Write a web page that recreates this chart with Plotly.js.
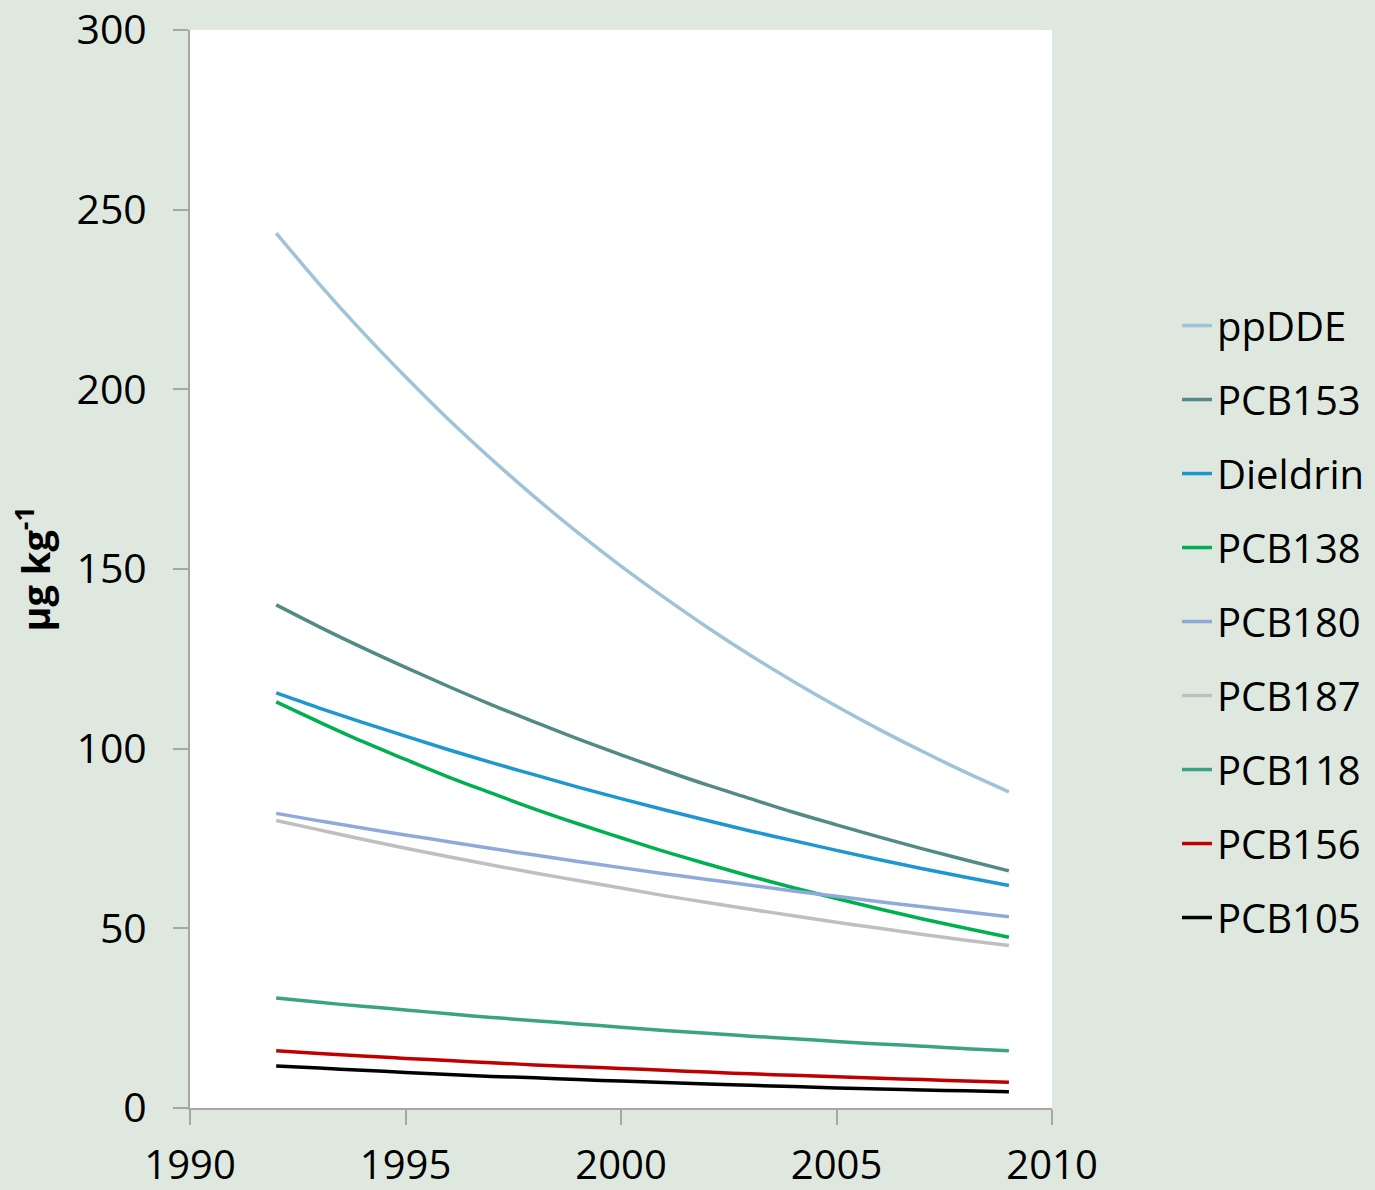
<!DOCTYPE html>
<html>
<head>
<meta charset="utf-8">
<script src="https://cdn.plot.ly/plotly-3.0.1.min.js"></script>
<style>html,body{margin:0;padding:0;background:#dfe8df;}</style>
</head>
<body>
<div id="chart" style="width:1375px;height:1190px;"></div>
<script>
const years = [1992,1993,1994,1995,1996,1997,1998,1999,2000,2001,2002,2003,2004,2005,2006,2007,2008,2009];

const ppDDE    = [243.5,229.3,216.0,203.5,191.6,180.5,170.0,160.1,150.8,142.1,133.8,126.0,118.7,111.8,105.3,99.2,93.4,88.0];
const PCB153   = [140.0,133.9,128.1,122.6,117.3,112.2,107.4,102.7,98.3,94.0,89.9,86.1,82.3,78.8,75.4,72.1,69.0,66.0];
const Dieldrin = [115.5,111.3,107.3,103.5,99.7,96.1,92.7,89.3,86.1,83.0,80.0,77.1,74.4,71.7,69.1,66.6,64.2,61.9];
const PCB138   = [113.0,107.4,102.0,97.0,92.1,87.6,83.2,79.1,75.2,71.4,67.9,64.5,61.3,58.3,55.4,52.6,50.0,47.5];
const PCB180   = [82.0,79.9,77.9,76.0,74.1,72.2,70.4,68.6,66.9,65.2,63.6,62.0,60.4,58.9,57.4,56.0,54.6,53.2];
const PCB187   = [80.0,77.4,74.8,72.3,69.9,67.6,65.4,63.3,61.2,59.1,57.2,55.3,53.5,51.7,50.0,48.3,46.7,45.2];
const PCB118   = [30.6,29.4,28.3,27.3,26.2,25.2,24.3,23.4,22.5,21.6,20.8,20.0,19.3,18.5,17.8,17.2,16.5,15.9];
const PCB156   = [15.9,15.2,14.5,13.8,13.2,12.6,12.0,11.5,11.0,10.5,10.0,9.5,9.1,8.7,8.3,7.9,7.5,7.2];
const PCB105   = [11.7,11.1,10.5,9.9,9.3,8.8,8.4,7.9,7.5,7.1,6.7,6.3,6.0,5.6,5.3,5.0,4.8,4.5];

const seriesNames = ["ppDDE","PCB153","Dieldrin","PCB138","PCB180","PCB187","PCB118","PCB156","PCB105"];
const seriesData  = [ppDDE,PCB153,Dieldrin,PCB138,PCB180,PCB187,PCB118,PCB156,PCB105];
const seriesColors = ["#9fc3d9","#528b85","#1c97d0","#00b050","#8eaadb","#bfbfbf","#3aa384","#c00000","#000000"];

const FONT = "Open Sans, Lato, sans-serif";

const traces = seriesNames.map((n,i)=>({
  x: years, y: seriesData[i], name: n, type: "scatter", mode: "lines",
  line: {color: seriesColors[i], width: 3.5, shape: "spline"},
  legendgroup: "g"+i
}));

const layout = {
  width: 1375, height: 1190,
  paper_bgcolor: "#dfe8df",
  plot_bgcolor: "#ffffff",
  margin: {l:190, r:323, t:30, b:82, pad:0, autoexpand: false},
  font: {family: FONT, color: "#000000", size: 40},
  showlegend: true,
  legend: {
    x: 1.145, xanchor: "left", y: 0.756, yanchor: "top",
    font: {family: FONT, size: 40, color: "#000"},
    bgcolor: "rgba(0,0,0,0)",
    traceorder: "grouped",
    tracegroupgap: 19
  },
  xaxis: {
    range: [1990, 2010], tickvals: [1990,1995,2000,2005,2010],
    ticktext: ["1990","1995","2000","2005","2010"],
    showgrid: false, zeroline: false, automargin: false,
    showline: true, linecolor: "#a6a6a6", linewidth: 2,
    ticks: "outside", ticklen: 15, tickwidth: 2, tickcolor: "#a6a6a6",
    ticklabelstandoff: 6,
    tickfont: {family: FONT, size: 40, color: "#000"}
  },
  yaxis: {
    range: [0, 300], tickvals: [0,50,100,150,200,250,300],
    showgrid: false, zeroline: false, automargin: false,
    showline: true, linecolor: "#a6a6a6", linewidth: 2,
    ticks: "outside", ticklen: 15, tickwidth: 2, tickcolor: "#a6a6a6",
    ticklabelstandoff: 18,
    tickfont: {family: FONT, size: 41, color: "#000"},
    title: {text: "<b>µg kg<sup>-1</sup></b>", font: {family: FONT, size: 38, color: "#000"}, standoff: 14}
  }
};

Plotly.newPlot("chart", traces, layout, {displayModeBar: false, staticPlot: true});
</script>
</body>
</html>
